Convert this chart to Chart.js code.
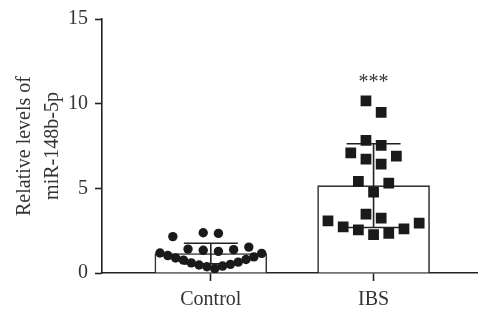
<!DOCTYPE html>
<html>
<head>
<meta charset="utf-8">
<script src="https://cdn.jsdelivr.net/npm/chart.js@4.4.1/dist/chart.umd.min.js"></script>
<style>
  html, body { margin: 0; padding: 0; background: #fff; }
  #wrap { width: 485px; height: 313px; }
</style>
</head>
<body>
<div id="wrap"><canvas id="myChart" width="485" height="313"></canvas></div>
<script>
// values
const groups = ['Control', 'IBS']
const means = [1.15, 5.16]
const sds = [0.61, 2.47]
const controlValues = [2.15, 2.38, 2.34, 1.41, 1.34, 1.28, 1.38, 1.53, 1.03, 0.89, 0.76,
  0.60, 0.47, 0.37, 0.25, 0.41, 0.51, 0.64, 0.80, 0.95, 1.18, 1.16]
const ibsValues = [10.16, 9.48, 7.83, 7.54, 7.09, 6.73, 6.90, 6.43, 5.41, 5.31, 4.77,
  3.47, 3.24, 3.08, 2.73, 2.54, 2.27, 2.34, 2.60, 2.95]
const yTicks = [0, 5, 10, 15]
const starLabel = '***'

const ink = '#222'
const textColor = '#333'
const serif = 'Liberation Serif'

// column scatter: sorted points grouped into rows, each row spread left/right from the centre
function swarm(values, center, binH, maxSpread, maxSlot) {
  let sorted = values.slice().sort((a, b) => a - b)
  let pts = []
  let i = 0
  while (i < sorted.length) {
    let start = sorted[i]
    let bin = []
    while (i < sorted.length && sorted[i] - start <= binH) bin.push(sorted[i++])
    let odd = bin.length % 2 === 1
    let slot = bin.length > 1 ? Math.min(maxSlot, maxSpread / (bin.length - 1)) : maxSlot
    bin.forEach((v, k) => {
      let step = odd ? Math.ceil(k / 2) : Math.floor(k / 2) + 0.5
      let sign = (odd ? k % 2 === 1 : k % 2 === 0) ? 1 : -1
      pts.push({ x: center + sign * step * slot, y: v })
    })
  }
  return pts
}

const errorBars = {
  id: 'errorBars',
  afterDatasetDraw(chart, args) {
    if (args.index !== 0) return
    const { ctx, scales: { x, y } } = chart
    ctx.save()
    ctx.strokeStyle = ink
    ctx.lineWidth = 1.6
    means.forEach((m, i) => {
      let cx = x.getPixelForValue(i + 1)
      let top = y.getPixelForValue(m + sds[i])
      let bot = y.getPixelForValue(m - sds[i])
      let half = 27
      ctx.beginPath()
      ctx.moveTo(cx, top); ctx.lineTo(cx, bot)
      ctx.moveTo(cx - half, top); ctx.lineTo(cx + half, top)
      ctx.moveTo(cx - half, bot); ctx.lineTo(cx + half, bot)
      ctx.stroke()
    })
    ctx.restore()
  },
  afterDraw(chart) {
    const { ctx, scales: { x, y } } = chart
    ctx.save()
    ctx.fillStyle = textColor
    ctx.font = '20px "' + serif + '"'
    ctx.textAlign = 'center'
    ctx.textBaseline = 'alphabetic'
    ctx.fillText(starLabel, x.getPixelForValue(2), y.getPixelForValue(Math.max(...ibsValues)) - 13)
    ctx.restore()
  }
}

const ctx = document.getElementById('myChart')

new Chart(ctx, {
  type: 'bar',
  data: {
    datasets: [{
      type: 'bar',
      order: 2,
      data: means.map((m, i) => ({ x: i + 1, y: m })),
      backgroundColor: '#fff',
      borderColor: '#333',
      borderWidth: 1.6,
      borderSkipped: 'bottom',
      barThickness: 112,
    }, {
      type: 'scatter',
      order: 1,
      data: swarm(controlValues, 1, 0.95, 0.625, 0.0934),
      pointStyle: 'circle',
      pointRadius: 4.7,
      pointBackgroundColor: '#1a1a1a',
      pointBorderWidth: 0,
    }, {
      type: 'scatter',
      order: 1,
      data: swarm(ibsValues, 2, 0.95, 0.625, 0.0934),
      pointStyle: 'rect',
      pointRadius: 7.6,
      pointBackgroundColor: '#1a1a1a',
      pointBorderWidth: 0,
    }]
  },
  options: {
    responsive: false,
    animation: false,
    layout: { padding: { top: 15, right: 0, left: 0, bottom: 0 } },
    plugins: {
      legend: { display: false },
      tooltip: { enabled: false }
    },
    scales: {
      x: {
        type: 'linear',
        offset: false,
        min: 0.3313,
        max: 2.638,
        afterBuildTicks: s => { s.ticks = groups.map((g, i) => ({ value: i + 1 })) },
        afterFit: s => { s.height = 40 },
        ticks: {
          callback: v => groups[v - 1],
          color: textColor,
          font: { family: serif, size: 20 },
          padding: 7,
          maxRotation: 0,
        },
        grid: { offset: false, drawOnChartArea: false, drawTicks: true, tickLength: 8, tickColor: ink, tickWidth: 1.6 },
        border: { color: ink, width: 1.6 },
      },
      y: {
        type: 'linear',
        min: 0,
        max: 15,
        afterBuildTicks: s => { s.ticks = yTicks.map(v => ({ value: v })) },
        afterFit: s => { s.width = 102 },
        ticks: {
          color: textColor,
          font: { family: serif, size: 20 },
          padding: 7,
        },
        grid: { drawOnChartArea: false, drawTicks: true, tickLength: 7, tickColor: ink, tickWidth: 1.6 },
        border: { color: ink, width: 1.6 },
        title: {
          display: true,
          text: ['Relative levels of', 'miR-148b-5p'],
          color: textColor,
          font: { family: serif, size: 20, lineHeight: 1.4 },
          padding: { top: 11, bottom: 0 },
        }
      }
    }
  },
  plugins: [errorBars]
})
</script>
</body>
</html>
